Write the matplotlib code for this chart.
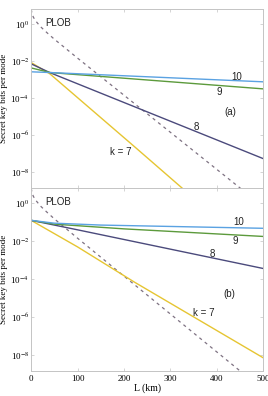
import numpy as np
import matplotlib
matplotlib.use('Agg')
import matplotlib.pyplot as plt

plt.rcParams['mathtext.fontset'] = 'stix'

# Datos (log10 de bits por modo)
L_plob = [0.3, 2, 5, 10, 20, 35, 50, 75, 100, 150, 200, 300, 400, 500]
log_plob = [0.79, 0.55, 0.36, 0.16, -0.14, -0.49, -0.82, -1.33, -1.84, -2.84, -3.84, -5.84, -7.84, -9.84]

# Panel (a)
L_a7 = [0, 41, 222, 330]
log_a7 = [-2.08, -2.70, -6.60, -8.95]
L_a8 = [0, 41, 500]
log_a8 = [-2.15, -2.63, -7.26]
L_a9 = [0, 41, 500]
log_a9 = [-2.37, -2.62, -3.50]
L_a10 = [0, 41, 500]
log_a10 = [-2.58, -2.62, -3.12]

# Panel (b)
L_b7 = [0, 100, 222, 500]
log_b7 = [-0.90, -2.30, -4.15, -8.15]
L_b8 = [0, 100, 500]
log_b8 = [-0.90, -1.40, -3.44]
L_b9 = [0, 50, 200, 500]
log_b9 = [-0.90, -1.10, -1.35, -1.75]
L_b10 = [0, 50, 150, 500]
log_b10 = [-0.90, -1.05, -1.15, -1.32]

k_labels = ['k = 7', '8', '9', '10']
colores = ['#e6c532', '#4b4a7c', '#5c9a3c', '#5aa2e2']
color_plob = '#7e7282'
gris = '#c4c4c4'

fig = plt.figure(figsize=(2.68, 3.96), dpi=100)
ax_a = fig.add_axes([0.116, 0.525, 0.866, 0.452])
ax_b = fig.add_axes([0.116, 0.063, 0.866, 0.462])

paneles = [
    (ax_a, [(L_a7, log_a7), (L_a8, log_a8), (L_a9, log_a9), (L_a10, log_a10)], '(a)',
     [(194, -6.88), (355, -5.54), (405, -3.66), (444, -2.85)], (429, -4.73)),
    (ax_b, [(L_b7, log_b7), (L_b8, log_b8), (L_b9, log_b9), (L_b10, log_b10)], '(b)',
     [(373, -5.77), (390, -2.65), (440, -2.0), (448, -1.0)], (427, -4.8)),
]

for ax, curvas, etiqueta, pos_k, pos_panel in paneles:
    ax.plot(L_plob, 10 ** np.array(log_plob), color=color_plob, lw=0.9, dashes=(2.5, 3))
    for (L, lg), c in zip(curvas, colores):
        ax.plot(L, 10 ** np.array(lg), color=c, lw=1.0)
    for (x, y), t in zip(pos_k, k_labels):
        ax.text(x, 10 ** y, t, fontsize=7, family='Liberation Sans', ha='center', va='center',
                color='#222222')
    ax.text(pos_panel[0], 10 ** pos_panel[1], etiqueta, fontsize=7, family='Liberation Sans',
            ha='center', va='center', color='#222222')
    ax.text(58, 10 ** 0.05, 'PLOB', fontsize=7, family='Liberation Sans', ha='center', va='center',
            color='#222222')

    ax.set_yscale('log')
    ax.set_xlim(0, 500)
    ax.set_ylim(10 ** -8.85, 10 ** 0.8)
    ax.set_yticks([1e0, 1e-2, 1e-4, 1e-6, 1e-8])
    ax.set_yticklabels(['10$^{0}$', '10$^{-2}$', '10$^{-4}$', '10$^{-6}$', '10$^{-8}$'])
    ax.minorticks_off()
    ax.set_xticks([0, 100, 200, 300, 400, 500])
    ax.tick_params(direction='in', length=2, width=0.5, color=gris, labelsize=6.5,
                   top=True, right=True, pad=1.5)
    for lab in ax.get_xticklabels() + ax.get_yticklabels():
        lab.set_family('Liberation Serif')
    for s in ax.spines.values():
        s.set_color(gris)
        s.set_linewidth(0.7)
    ax.set_ylabel('Secret key bits per mode', fontsize=6.5, family='Liberation Serif', labelpad=0)
    ax.yaxis.set_label_coords(-0.098, 0.5)

ax_a.tick_params(labelbottom=False)
ax_b.tick_params(axis='x', pad=3)
ax_b.set_xlabel('L (km)', fontsize=7, family='Liberation Serif', labelpad=0)

fig.savefig('out.png', dpi=100)
